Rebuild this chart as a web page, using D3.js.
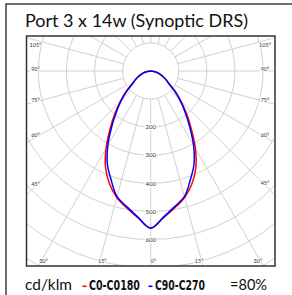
<!DOCTYPE html>
<html><head><meta charset="utf-8">
<script src="https://cdn.jsdelivr.net/npm/d3@7"></script>
<style>html,body{margin:0;padding:0;background:#fff;overflow:hidden}</style>
</head><body>
<svg id="c" width="292" height="295"></svg>
<script>
const title = "Port 3 x 14w (Synoptic DRS)";
const angles = [0,5,10,15,20,25,30,35,40,45,50,55,60,65,70,75,80,85,90];
const c0c180 = [559,524,494,466,428,380,318,252,198,152,116,82,65,50,38,27,16,7,0];
const c90c270 = [559,522,490,463,412,365,305,242,190,148,110,78,63,49,37,26,15,6,0];
const rings = [100,200,300,400,500,600,700,800,900];
const ringLabels = [200,300,400,500,600];
const spokes = d3.range(0,360,15);
const sideLabels = [105,90,75,60,45];
const bottomLabels = [30,15,0];
const legendUnit = "cd/klm";
const legendNames = ["C0-C0180","C90-C270"];
const legendColors = ["#ff0000","#0000ff"];
const efficiency = "=80%";

const svg = d3.select("#c");
const L = 26.5, T = 36, R = 275, B = 266;
const cx = 150.7, cy = 71;
const r = d3.scaleLinear().domain([0,600]).range([0,168.6]);

// outer frame
svg.append("rect").attr("x",6).attr("y",4).attr("width",320).attr("height",320)
  .attr("fill","none").attr("stroke","#333").attr("stroke-width",1.4);

// title
svg.append("text").attr("x",25).attr("y",27).text(title)
  .attr("font-family","Lato, 'Open Sans', sans-serif").attr("font-size",16.5)
  .attr("fill","#111").attr("textLength",223).attr("lengthAdjust","spacingAndGlyphs");

svg.append("clipPath").attr("id","pc").append("rect")
  .attr("x",L).attr("y",T).attr("width",R-L).attr("height",B-T);
const g = svg.append("g").attr("clip-path","url(#pc)");
g.append("rect").attr("x",L).attr("y",T).attr("width",R-L).attr("height",B-T).attr("fill","#fff");

// grid circles
g.selectAll("circle.ring").data(rings).join("circle")
  .attr("cx",cx).attr("cy",cy).attr("r",d=>r(d))
  .attr("fill","none").attr("stroke","#d0d0d0").attr("stroke-width",1);
// spokes
const rad = d=>d*Math.PI/180;
g.selectAll("line.spoke").data(spokes).join("line")
  .attr("x1",d=>cx - r(100)*Math.sin(rad(d))).attr("y1",d=>cy + r(100)*Math.cos(rad(d)))
  .attr("x2",d=>cx - r(1200)*Math.sin(rad(d))).attr("y2",d=>cy + r(1200)*Math.cos(rad(d)))
  .attr("stroke","#d0d0d0").attr("stroke-width",1);

// curves
function pts(vals){
  const left = angles.map((a,i)=>[Math.PI + rad(a), r(vals[i])]).reverse();
  const right = angles.map((a,i)=>[Math.PI - rad(a), r(vals[i])]);
  return left.concat(right.slice(1));
}
const line = d3.lineRadial().angle(d=>d[0]).radius(d=>d[1]).curve(d3.curveCatmullRom);
const cg = g.append("g").attr("transform",`translate(${cx},${cy})`);
cg.append("path").attr("d",line(pts(c0c180))).attr("fill","none").attr("stroke","#ff0000").attr("stroke-width",1.5);
cg.append("path").attr("d",line(pts(c90c270))).attr("fill","none").attr("stroke","#0000ff").attr("stroke-width",1.5);

// ring labels
g.selectAll("text.rl").data(ringLabels).join("text")
  .attr("x",cx).attr("y",d=>cy + r(d)).attr("dy","0.35em")
  .attr("text-anchor","middle").attr("font-family","Lato, sans-serif").attr("font-size",6)
  .attr("fill","#333").attr("stroke","#fff").attr("stroke-width",2.5).attr("paint-order","stroke")
  .text(d=>d);

// degree labels
const lab = [];
sideLabels.forEach(a=>{
  [-1,1].forEach(s=>{
    const x = s<0 ? L+9 : R-10;
    const dx = Math.abs(x-cx);
    let y = cy + dx/Math.tan(rad(a)) - 2;
    y = Math.max(y, T+9);
    lab.push({a,x,y});
  });
});
bottomLabels.forEach(a=>{
  [-1,1].forEach(s=>{
    if(a===0 && s>0) return;
    const y = B-5;
    const x = cx + s*((y-cy)*Math.tan(rad(a))) - 2.5*s;
    lab.push({a,x,y});
  });
});
g.selectAll("text.dl").data(lab).join("text")
  .attr("x",d=>d.x).attr("y",d=>d.y).attr("dy","0.35em").attr("text-anchor","middle")
  .attr("font-family","Lato, sans-serif").attr("font-size",5.5).attr("fill","#333")
  .attr("stroke","#fff").attr("stroke-width",2).attr("paint-order","stroke")
  .text(d=>d.a+"°");

// plot border
svg.append("rect").attr("x",L).attr("y",T).attr("width",R-L).attr("height",B-T)
  .attr("fill","none").attr("stroke","#333").attr("stroke-width",1.5);

// legend
const ly = 290;
svg.append("text").attr("x",25).attr("y",ly).text(legendUnit)
  .attr("font-family","Lato, sans-serif").attr("font-size",16).attr("fill","#111")
  .attr("textLength",47).attr("lengthAdjust","spacingAndGlyphs");
const lx = [82.5,148.5], tx=[89,155], tw=[51,50];
legendNames.forEach((n,i)=>{
  svg.append("rect").attr("x",lx[i]).attr("y",ly-4.5).attr("width",4).attr("height",1.6).attr("fill",legendColors[i]);
  svg.append("text").attr("x",tx[i]).attr("y",ly).text(n)
    .attr("font-family","'Liberation Sans Narrow','DejaVu Sans Condensed',sans-serif").attr("font-weight","bold")
    .attr("font-size",14).attr("fill","#111").attr("textLength",tw[i]).attr("lengthAdjust","spacingAndGlyphs");
});
svg.append("text").attr("x",230).attr("y",ly).text(efficiency)
  .attr("font-family","Lato, sans-serif").attr("font-size",16).attr("fill","#111")
  .attr("textLength",37).attr("lengthAdjust","spacingAndGlyphs");
</script>
</body></html>
